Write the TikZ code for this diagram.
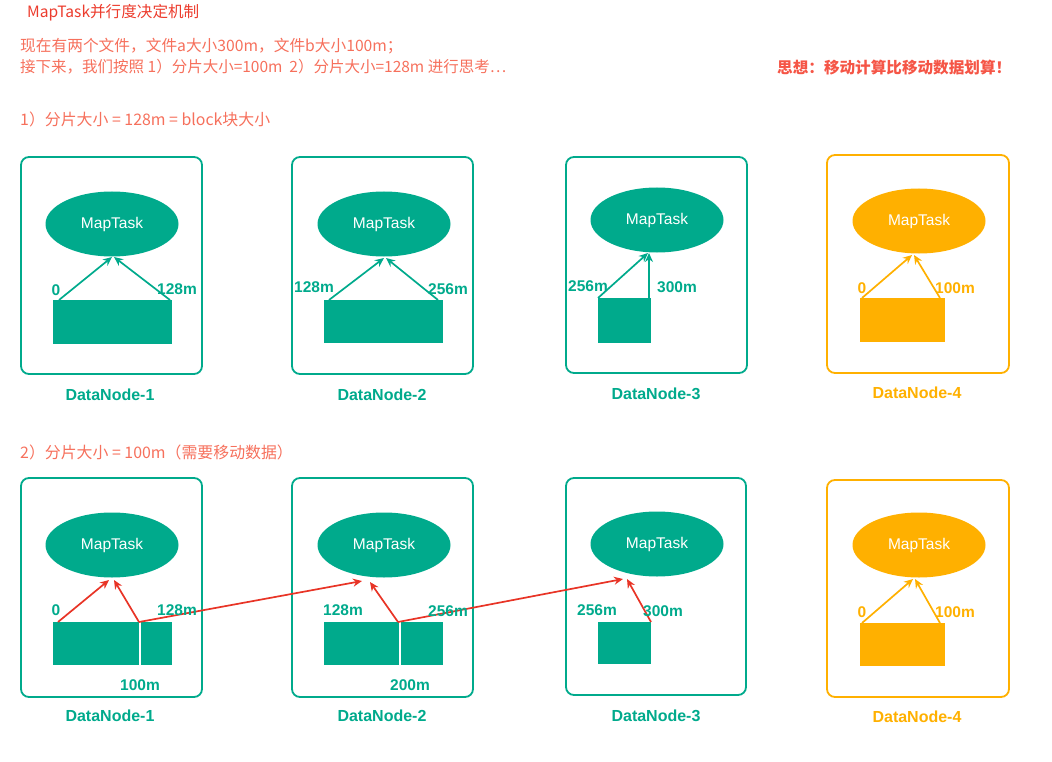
\documentclass[tikz,border=0pt]{standalone}
\usepackage{fontspec}
\setmainfont{Liberation Sans}
\newfontfamily\cjk{Noto Sans CJK SC}
\usetikzlibrary{shapes.geometric,arrows.meta}
\definecolor{teal1}{RGB}{0,170,140}
\definecolor{orng}{RGB}{255,176,0}
\definecolor{redar}{RGB}{232,52,38}
\definecolor{ttl}{RGB}{236,60,45}
\definecolor{txt}{RGB}{246,112,92}
\definecolor{idea}{RGB}{245,85,70}
\tikzset{
  dnbox/.style={draw=#1, line width=1.8pt, rounded corners=8pt},
  task/.style={ellipse, fill=#1, text=white, minimum width=133pt, minimum height=65pt, inner sep=0pt, font=\fontsize{15.5}{17}\selectfont},
  blk/.style={fill=#1, inner sep=0pt, outer sep=0pt},
  lbl/.style={text=#1, inner sep=0pt, font=\bfseries\fontsize{15.5}{17}\selectfont},
  dnlbl/.style={text=#1, inner sep=0pt, font=\bfseries\fontsize{16}{18}\selectfont},
  arr/.style={draw=#1, line width=1.7pt, -{Stealth[length=9pt,width=8pt]}},
  hdr/.style={anchor=west, inner sep=0pt, text=txt, font=\cjk\fontsize{15.7}{18}\selectfont},
}
\begin{document}
\begin{tikzpicture}[x=1pt,y=-1pt]
\useasboundingbox (0,0) rectangle (1052,762);
% header texts
\node[hdr, text=ttl, font=\cjk\fontsize{15.6}{17}\selectfont] (title) at (27,13) {MapTask并行度决定机制};
\node[hdr] (l1) at (20,46) {现在有两个文件，文件a大小300m，文件b大小100m；};
\node[hdr, font=\cjk\fontsize{15.5}{18}\selectfont] (l2) at (20,67) {接下来，我们按照 1）分片大小=100m\ \ 2）分片大小=128m 进行思考…};
\node[hdr, text=idea, font=\cjk\bfseries\fontsize{15.6}{18}\selectfont] (idea) at (777,68) {思想：移动计算比移动数据划算！};
\node[hdr, font=\cjk\fontsize{15.9}{18}\selectfont] (s1) at (20,119) {1）分片大小 = 128m = block块大小};
\node[hdr, font=\cjk\fontsize{15.9}{18}\selectfont] (s2) at (20,452) {2）分片大小 = 100m（需要移动数据）};

% ===== top row =====
\draw[dnbox=teal1] (21,157) rectangle (202,374);
\draw[dnbox=teal1] (292,157) rectangle (473,374);
\draw[dnbox=teal1] (566,157) rectangle (747,373);
\draw[dnbox=orng] (827,155) rectangle (1009,373);

\node[task=teal1] (m1) at (112,224) {MapTask};
\node[task=teal1] (m2) at (384,224) {MapTask};
\node[task=teal1] (m3) at (657,220) {MapTask};
\node[task=orng] (m4) at (919,221) {MapTask};

\node[blk=teal1, minimum width=119pt, minimum height=44pt] (b1) at (112.5,322) {};
\node[blk=teal1, minimum width=119pt, minimum height=43pt] (b2) at (383.5,321.5) {};
\node[blk=teal1, minimum width=53pt, minimum height=45pt] (b3) at (624.5,320.5) {};
\node[blk=orng, minimum width=85pt, minimum height=44pt] (b4) at (902.5,320) {};

\coordinate (a1s) at (59,300); \coordinate (a1e) at (170,300);
\coordinate (t1a) at (112,257); \coordinate (t1b) at (114,257);
\coordinate (a2s) at (329,300); \coordinate (a2e) at (438,300);
\coordinate (t2a) at (384,258); \coordinate (t2b) at (386,258);
\coordinate (a3s) at (598,298); \coordinate (a3e) at (649,298);
\coordinate (t3a) at (648,253); \coordinate (t3b) at (649,253);
\coordinate (a4s) at (862,298); \coordinate (a4e) at (940,298);
\coordinate (t4a) at (912,255); \coordinate (t4b) at (914,255);

\draw[arr=teal1] (a1s) -- (t1a);
\draw[arr=teal1] (a1e) -- (t1b);
\draw[arr=teal1] (a2s) -- (t2a);
\draw[arr=teal1] (a2e) -- (t2b);
\draw[arr=teal1] (a3s) -- (t3a);
\draw[arr=teal1] (a3e) -- (t3b);
\draw[arr=orng] (a4s) -- (t4a);
\draw[arr=orng] (a4e) -- (t4b);

\node[lbl=teal1] (p1a) at (56,290) {0};
\node[lbl=teal1] (p1b) at (177,289) {128m};
\node[lbl=teal1] (p2a) at (314,287) {128m};
\node[lbl=teal1] (p2b) at (448,289) {256m};
\node[lbl=teal1] (p3a) at (588,286) {256m};
\node[lbl=teal1] (p3b) at (677,287) {300m};
\node[lbl=orng] (p4a) at (862,288) {0};
\node[lbl=orng] (p4b) at (955,288) {100m};

\node[dnlbl=teal1] (d1) at (110,395) {DataNode-1};
\node[dnlbl=teal1] (d2) at (382,395) {DataNode-2};
\node[dnlbl=teal1] (d3) at (656,394) {DataNode-3};
\node[dnlbl=orng] (d4) at (917,393) {DataNode-4};

% ===== bottom row =====
\draw[dnbox=teal1] (21,478) rectangle (202,697);
\draw[dnbox=teal1] (292,478) rectangle (473,697);
\draw[dnbox=teal1] (566,478) rectangle (746,695);
\draw[dnbox=orng] (827,480) rectangle (1009,697);

\node[task=teal1] (n1) at (112,545) {MapTask};
\node[task=teal1] (n2) at (384,545) {MapTask};
\node[task=teal1] (n3) at (657,544) {MapTask};
\node[task=orng] (n4) at (919,545) {MapTask};

\node[blk=teal1, minimum width=119pt, minimum height=43pt] (c1) at (112.5,643.5) {};
\node[blk=teal1, minimum width=119pt, minimum height=43pt] (c2) at (383.5,643.5) {};
\node[blk=teal1, minimum width=53pt, minimum height=42pt] (c3) at (624.5,643) {};
\node[blk=orng, minimum width=85pt, minimum height=43pt] (c4) at (902.5,644.5) {};
\draw[white, line width=2pt] (140,622) -- (140,665);
\draw[white, line width=2pt] (400,622) -- (400,665);

\coordinate (e1s) at (58,622); \coordinate (e1m) at (139,622);
\coordinate (u1a) at (109,580); \coordinate (u1b) at (114,580);
\coordinate (e2m) at (398,622);
\coordinate (u2a) at (362,581); \coordinate (u2b) at (370,582);
\coordinate (e3e) at (651,622);
\coordinate (u3a) at (623,579); \coordinate (u3b) at (627,579);
\coordinate (e4s) at (862,623); \coordinate (e4e) at (940,623);
\coordinate (u4a) at (913,579); \coordinate (u4b) at (915,579);

\draw[arr=redar] (e1s) -- (u1a);
\draw[arr=redar] (e1m) -- (u1b);
\draw[arr=redar] (e1m) -- (u2a);
\draw[arr=redar] (e2m) -- (u2b);
\draw[arr=redar] (e2m) -- (u3a);
\draw[arr=redar] (e3e) -- (u3b);
\draw[arr=orng] (e4s) -- (u4a);
\draw[arr=orng] (e4e) -- (u4b);

\node[lbl=teal1] (q1a) at (56,610) {0};
\node[lbl=teal1] (q1b) at (177,610) {128m};
\node[lbl=teal1] (q1c) at (140,685) {100m};
\node[lbl=teal1] (q2a) at (343,610) {128m};
\node[lbl=teal1] (q2b) at (448,611) {256m};
\node[lbl=teal1] (q2c) at (410,685) {200m};
\node[lbl=teal1] (q3a) at (597,610) {256m};
\node[lbl=teal1] (q3b) at (663,611) {300m};
\node[lbl=orng] (q4a) at (862,612) {0};
\node[lbl=orng] (q4b) at (955,612) {100m};

\node[dnlbl=teal1] (f1) at (110,716) {DataNode-1};
\node[dnlbl=teal1] (f2) at (382,716) {DataNode-2};
\node[dnlbl=teal1] (f3) at (656,716) {DataNode-3};
\node[dnlbl=orng] (f4) at (917,717) {DataNode-4};
\end{tikzpicture}
\end{document}
